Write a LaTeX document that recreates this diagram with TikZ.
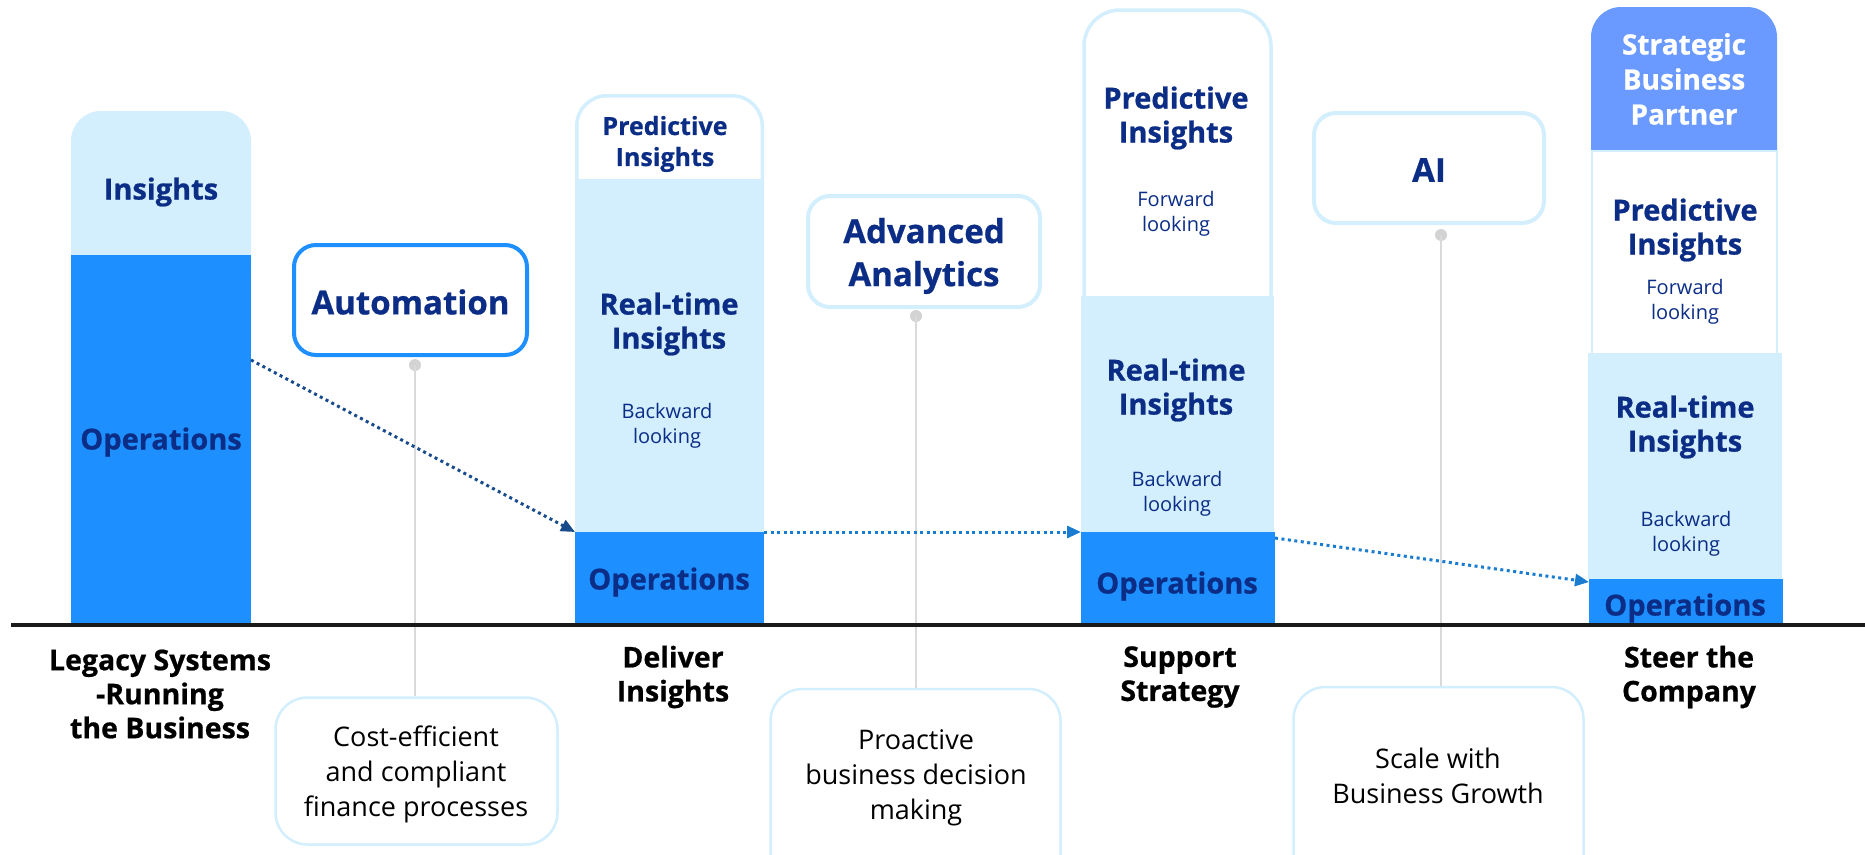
\documentclass[tikz,border=0pt]{standalone}
\usepackage{fontspec}
\setmainfont{Open Sans}[BoldFeatures={FakeBold=0.7}]
\usetikzlibrary{arrows.meta,calc}
\definecolor{navy}{HTML}{0B2D86}
\definecolor{opsblue}{HTML}{1E8FFF}
\definecolor{lightb}{HTML}{D3EEFD}
\definecolor{stratb}{HTML}{6A9AFF}
\definecolor{grayln}{HTML}{DADADA}
\definecolor{graydot}{HTML}{D3D3D3}
\definecolor{arrdark}{HTML}{174B8C}
\definecolor{arrmid}{HTML}{1A7CD0}
\definecolor{baseln}{HTML}{1A1A1A}
\newcommand\fHead{\fontsize{29}{34}\selectfont\bfseries}
\newcommand\fHeadS{\fontsize{25}{31}\selectfont\bfseries}
\newcommand\fSub{\fontsize{20}{24.5}\selectfont}
\newcommand\fBox{\fontsize{33}{43}\selectfont\bfseries}
\newcommand\fLab{\fontsize{28.5}{34}\selectfont\bfseries}
\newcommand\fNote{\fontsize{27}{35}\selectfont}
\begin{document}
\begin{tikzpicture}[x=1pt,y=-1pt,
  blk/.style={rectangle, inner sep=0pt, outer sep=0pt, anchor=north west, draw=none},
  txt/.style={align=center, text=navy, inner sep=0pt, yshift=-2pt},
  lab/.style={align=center, text=black, inner sep=0pt, font=\fLab},
  note/.style={align=center, text=black, inner sep=0pt, font=\fNote},
  topbox/.style={rectangle, rounded corners=22pt, fill=white, line width=4pt, inner sep=0pt},
  lowbox/.style={rectangle, rounded corners=32pt, fill=white, draw=lightb, line width=2.5pt, inner sep=0pt},
  dot/.style={circle, fill=graydot, minimum size=12pt, inner sep=0pt},
  gline/.style={grayln, line width=2pt},
  flow/.style={line width=3pt, dash pattern=on 3pt off 3.5pt, -{Triangle[length=14pt,width=12pt]}}
]
\useasboundingbox (0,0) rectangle (1865,854);

% ---------- column 1
\fill[lightb, rounded corners=30pt] (71,111) rectangle (251,300);
\node[blk, fill=opsblue, minimum width=180pt, minimum height=370pt] (ops1) at (71,255) {};

% ---------- column 2
\draw[lightb, line width=3.5pt, fill=white, rounded corners=30pt] (576.75,95.75) rectangle (762.25,230);
\node[blk, fill=lightb, minimum width=189pt, minimum height=353pt] (rt2) at (575,179) {};
\node[blk, fill=opsblue, minimum width=189pt, minimum height=93pt] (ops2) at (575,532) {};

% ---------- column 3
\draw[lightb, line width=3.5pt, fill=white, rounded corners=36pt] (1084,10) rectangle (1271,330);
\node[blk, fill=lightb, minimum width=193pt, minimum height=236pt] (rt3) at (1081,296) {};
\node[blk, fill=opsblue, minimum width=194pt, minimum height=93pt] (ops3) at (1081,532) {};

% ---------- column 4
\fill[stratb, rounded corners=30pt] (1591,7) rectangle (1777,200);
\draw[lightb, line width=2pt, fill=white] (1592,151) rectangle (1777,354);
\node[blk, fill=lightb, minimum width=194pt, minimum height=226pt] (rt4) at (1588,353) {};
\node[blk, fill=opsblue, minimum width=194pt, minimum height=46pt] (ops4) at (1589,579) {};

% ---------- upper boxes
\node[topbox, draw=opsblue, minimum width=233pt, minimum height=110pt] (auto) at (410.5,300) {};
\node[topbox, draw=lightb, minimum width=232pt, minimum height=111pt] (adv) at (924,251.5) {};
\node[topbox, draw=lightb, minimum width=230pt, minimum height=110pt] (ai) at (1429,168) {};

% ---------- lower boxes
\node[lowbox, minimum width=282pt, minimum height=147pt] (cost) at (416.5,771) {};
\node[lowbox, minimum width=290pt, minimum height=200pt] (proa) at (915.5,789) {};
\node[lowbox, minimum width=290pt, minimum height=200pt] (scal) at (1438.5,787) {};

% ---------- gray connectors
\node[dot] (d1) at (415,365) {};
\node[dot] (d2) at (916,316) {};
\node[dot] (d3) at (1441,235) {};
\draw[gline] (d1.center) -- (d1.center |- cost.north);
\draw[gline] (d2.center) -- (d2.center |- proa.north);
\draw[gline] (d3.center) -- (d3.center |- scal.north);

% ---------- baseline
\draw[baseln, line width=3.5pt] (11,625) -- (1865,625);

% ---------- flow arrows
\coordinate (a1s) at ($(ops1.north east)+(0,105)$);
\coordinate (a3s) at ($(ops3.north east)+(0,6)$);
\coordinate (a3e) at ($(ops4.north west)+(0,3)$);
\draw[flow, arrdark] (a1s) -- (ops2.north west);
\draw[flow, arrmid] (ops2.north east) -- (ops3.north west);
\draw[flow, arrmid] (a3s) -- (a3e);

% ---------- texts in columns
\node[txt, font=\fHead] (t1a) at (161,190) {Insights};
\node[txt, font=\fHead] (t1b) at (161,440) {Operations};

\node[txt, font=\fHeadS] (t2a) at (665,142) {Predictive\\Insights};
\node[txt, font=\fHead] (t2b) at (669,322) {Real-time\\Insights};
\node[txt, font=\fSub] (t2c) at (667,424) {Backward\\looking};
\node[txt, font=\fHead] (t2d) at (669,580) {Operations};

\node[txt, font=\fHead] (t3a) at (1176,116) {Predictive\\Insights};
\node[txt, font=\fSub] (t3b) at (1176,212) {Forward\\looking};
\node[txt, font=\fHead] (t3c) at (1176,388) {Real-time\\Insights};
\node[txt, font=\fSub] (t3d) at (1177,492) {Backward\\looking};
\node[txt, font=\fHead] (t3e) at (1177,584) {Operations};

\node[txt, text=white, yshift=2pt, font=\fontsize{28}{35}\selectfont\bfseries] (t4a) at (1684,79) {Strategic\\Business\\Partner};
\node[txt, font=\fHead] (t4b) at (1685,228) {Predictive\\Insights};
\node[txt, font=\fSub] (t4c) at (1685,300) {Forward\\looking};
\node[txt, font=\fHead] (t4d) at (1685,425) {Real-time\\Insights};
\node[txt, font=\fSub] (t4e) at (1686,532) {Backward\\looking};
\node[txt, font=\fHead] (t4f) at (1685,606) {Operations};

% ---------- box texts
\node[txt, font=\fBox] (tauto) at (410.5,300) {Automation};
\node[txt, font=\fBox, yshift=-1pt] (tadv) at (924,253) {Advanced\\Analytics};
\node[txt, font=\fBox] (tai) at (1429,168) {AI};

% ---------- bottom labels
\node[lab] (l1) at (160,694) {Legacy Systems\\-Running\\the Business};
\node[lab] (l2) at (673,677) {Deliver\\Insights};
\node[lab] (l3) at (1180,677) {Support\\Strategy};
\node[lab] (l4) at (1689,677) {Steer the\\Company};

% ---------- notes
\node[note] (n1) at (416,774) {Cost-efficient\\and compliant\\finance processes};
\node[note] (n2) at (916,778) {Proactive\\business decision\\making};
\node[note] (n3) at (1438,776) {Scale with\\Business Growth};
\end{tikzpicture}
\end{document}
